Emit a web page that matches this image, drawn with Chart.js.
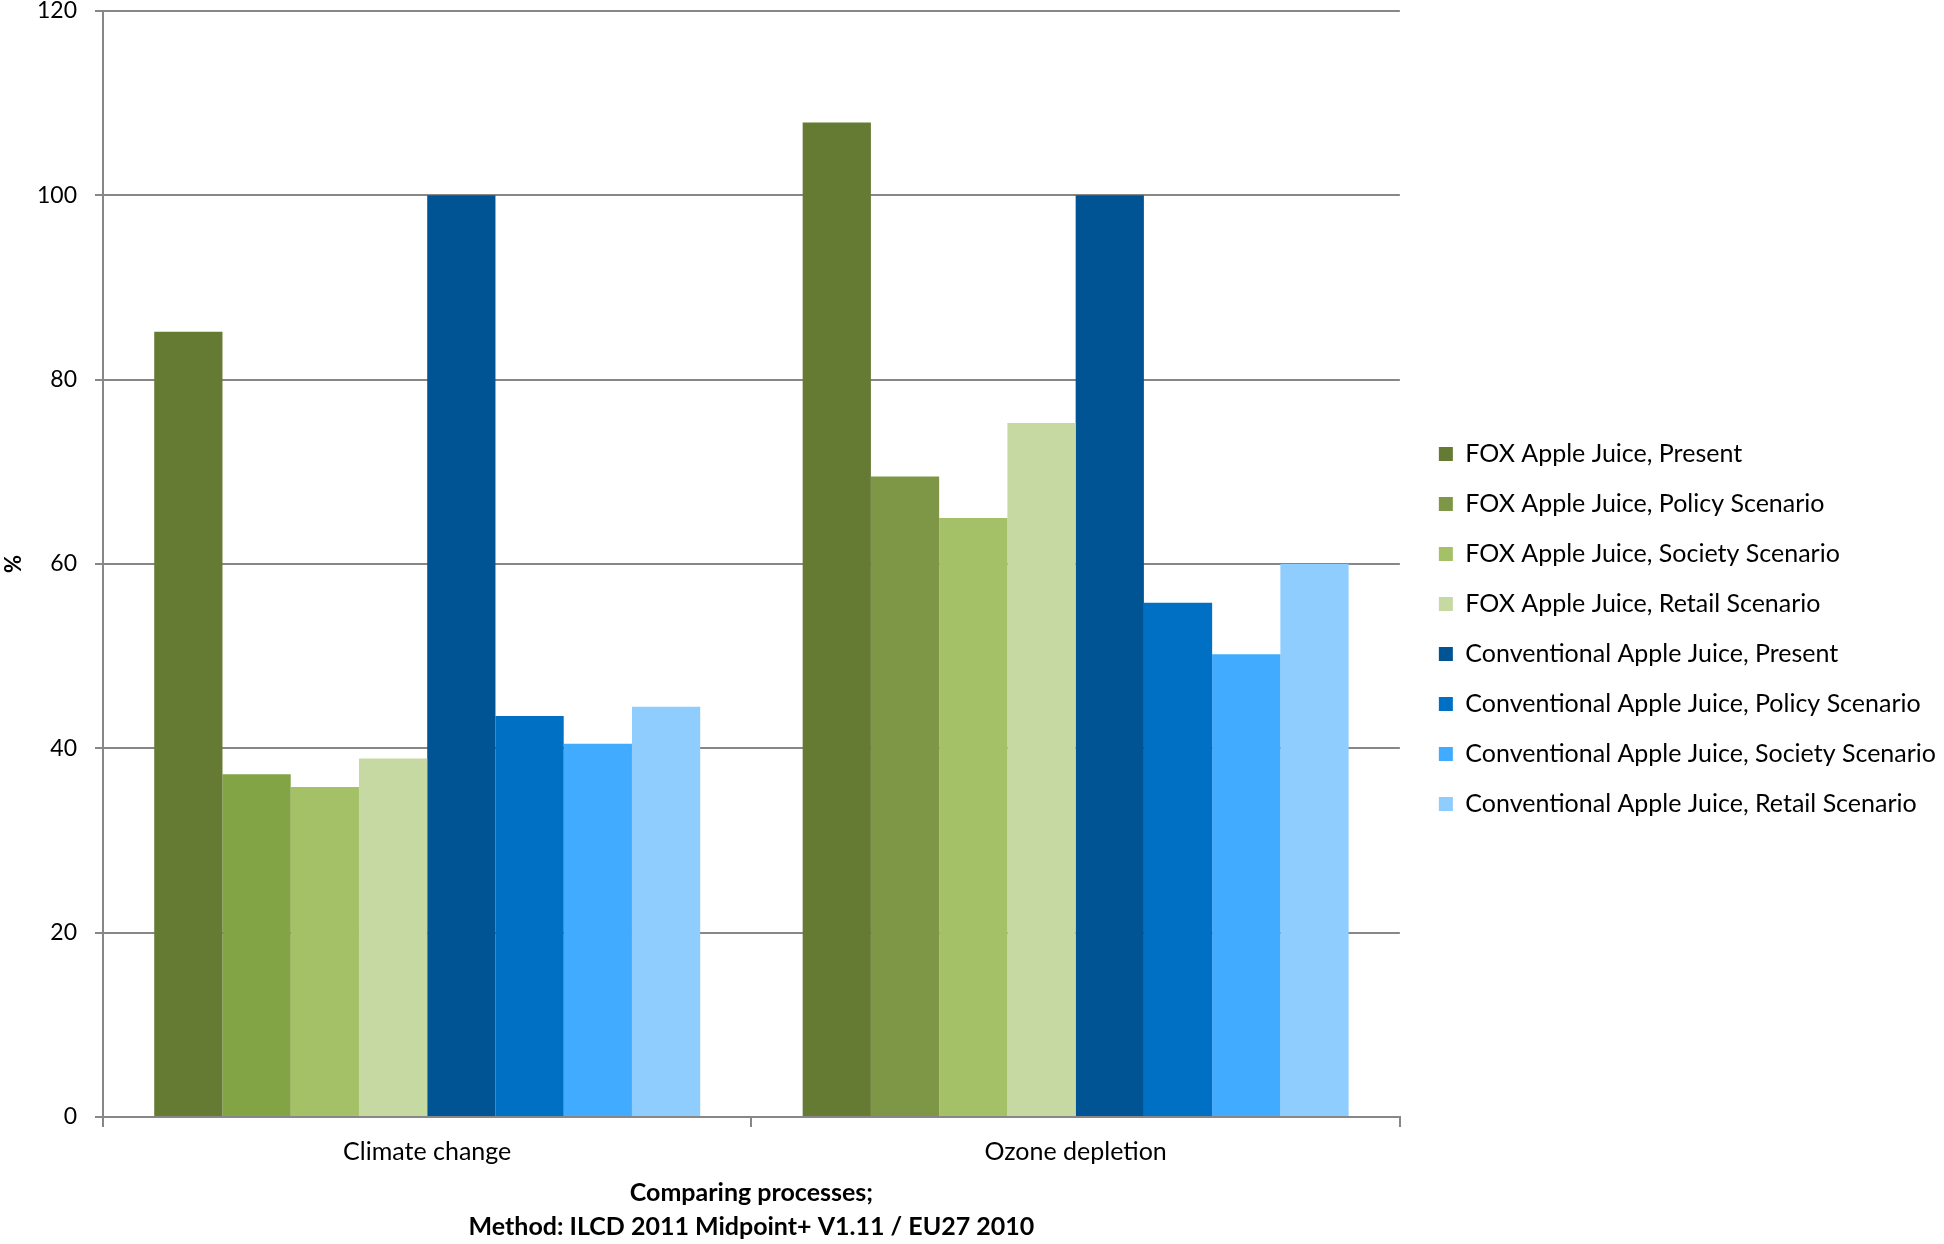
<!DOCTYPE html>
<html>
<head>
<meta charset="utf-8">
<script src="https://cdn.jsdelivr.net/npm/chart.js@4.4.0/dist/chart.umd.min.js"></script>
<style>
  html, body { margin: 0; padding: 0; background: #fff; }
  #wrap { width: 1944px; height: 1244px; }
</style>
</head>
<body>
<div id="wrap"><canvas id="grafico"></canvas></div>
<script>
const categorias = ["Climate change", "Ozone depletion"];

const foxPresent = [85.2, 107.9];
const foxPolicy = [37.2, 69.5];
const foxSociety = [35.8, 65.0];
const foxRetail = [38.9, 75.3];
const convPresent = [100, 100];
const convPolicy = [43.5, 55.8];
const convSociety = [40.5, 50.2];
const convRetail = [44.5, 60.0];

const series = [
  { label: "FOX Apple Juice, Present", data: foxPresent, color: "#657b33" },
  { label: "FOX Apple Juice, Policy Scenario", data: foxPolicy, color: ["#83a444", "#7e9746"] },
  { label: "FOX Apple Juice, Society Scenario", data: foxSociety, color: "#a4c168" },
  { label: "FOX Apple Juice, Retail Scenario", data: foxRetail, color: "#c7d9a2" },
  { label: "Conventional Apple Juice, Present", data: convPresent, color: "#005494" },
  { label: "Conventional Apple Juice, Policy Scenario", data: convPolicy, color: "#0070c5" },
  { label: "Conventional Apple Juice, Society Scenario", data: convSociety, color: "#41acff" },
  { label: "Conventional Apple Juice, Retail Scenario", data: convRetail, color: "#8fcdff" }
];

const fuente = "Lato, 'Liberation Sans', sans-serif";
const gris = "#878787";

// hueco entre el area del grafico y la leyenda
const huecoLeyenda = {
  id: "huecoLeyenda",
  beforeInit(chart) {
    Chart.layouts.addBox(chart, {
      position: "right",
      weight: 10,
      fullSize: false,
      options: {},
      isHorizontal() { return false; },
      update(maxWidth, maxHeight) { this.width = 14; this.height = maxHeight; },
      draw() {}
    });
  }
};

const ctx = document.getElementById("grafico").getContext("2d");
new Chart(ctx, {
  type: "bar",
  plugins: [huecoLeyenda],
  data: {
    labels: categorias,
    datasets: series.map(s => ({
      label: s.label,
      data: s.data,
      backgroundColor: s.color,
      borderWidth: 0,
      barPercentage: 1,
      categoryPercentage: 0.842
    }))
  },
  options: {
    responsive: true,
    maintainAspectRatio: false,
    animation: false,
    layout: { padding: { left: 1, top: 0, right: -2, bottom: -14 } },
    plugins: {
      tooltip: { enabled: false },
      legend: {
        position: "right",
        maxWidth: 600,
        labels: {
          color: "#000",
          font: { family: fuente, size: 25 },
          boxWidth: 14,
          boxHeight: 14,
          padding: 25,
          generateLabels: chart => chart.data.datasets.map((d, i) => ({
            text: d.label,
            fillStyle: Array.isArray(d.backgroundColor) ? d.backgroundColor[1] : d.backgroundColor,
            strokeStyle: "rgba(0,0,0,0)",
            lineWidth: 0,
            datasetIndex: i
          }))
        }
      }
    },
    scales: {
      x: {
        grid: {
          display: true,
          drawOnChartArea: false,
          drawTicks: true,
          tickLength: 10,
          color: gris,
          lineWidth: 2
        },
        border: { color: gris, width: 2 },
        ticks: { color: "#000", font: { family: fuente, size: 25 }, padding: 10 },
        title: {
          display: true,
          text: ["Comparing processes;", "Method: ILCD 2011 Midpoint+ V1.11 / EU27 2010"],
          color: "#000",
          font: { family: fuente, size: 25, weight: "bold", lineHeight: 1.36 },
          padding: { top: -1, bottom: 14 }
        }
      },
      y: {
        min: 0,
        max: 120,
        ticks: { stepSize: 20, color: "#000", font: { family: fuente, size: 23 }, padding: 18 },
        grid: { color: gris, lineWidth: 2, tickLength: 8 },
        border: { color: gris, width: 2 },
        title: {
          display: true,
          text: "%",
          color: "#000",
          font: { family: fuente, size: 22, weight: "bold" },
          padding: { top: 0, bottom: 0 }
        },
        afterFit: s => {
          s.width = 102;
          s.paddingTop = 11;
          s.paddingBottom = 0;
        }
      }
    }
  }
});
</script>
</body>
</html>
